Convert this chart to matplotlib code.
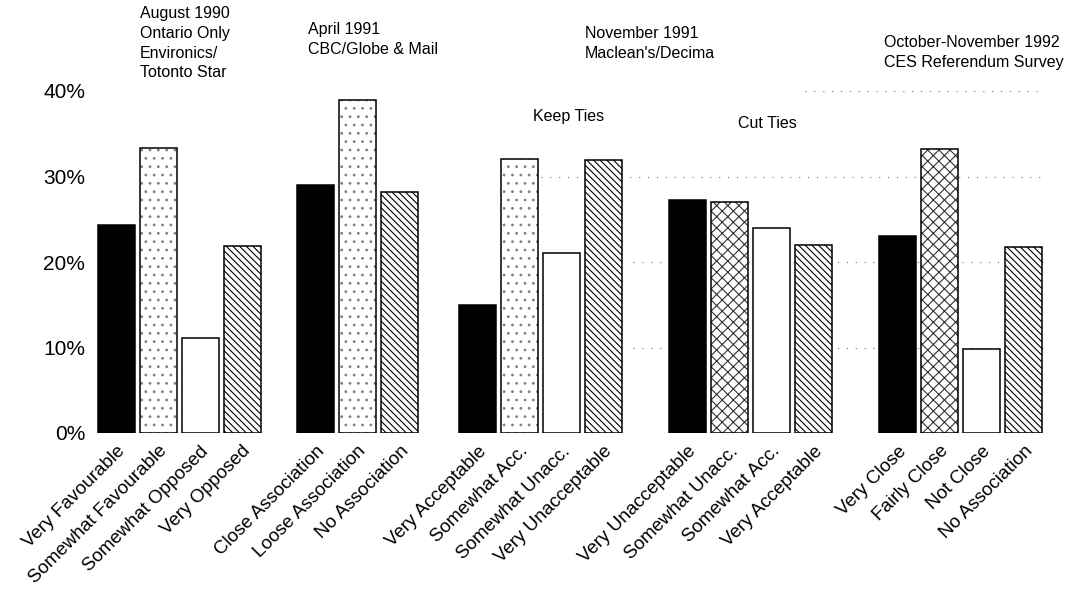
import matplotlib.pyplot as plt
import numpy as np

plt.rcParams['font.family'] = ['Liberation Sans', 'DejaVu Sans']
plt.rcParams['hatch.linewidth'] = 0.8

# survey groups, categories and percentages
group_notes = [
    "August 1990\nOntario Only\nEnvironics/\nTotonto Star",
    "April 1991\nCBC/Globe & Mail",
    "November 1991\nMaclean's/Decima",
    "",
    "October-November 1992\nCES Referendum Survey",
]
sub_notes = ["", "", "Keep Ties", "Cut Ties", ""]

cats_1990 = ["Very Favourable", "Somewhat Favourable", "Somewhat Opposed", "Very Opposed"]
vals_1990 = [24.3, 33.3, 11.1, 21.9]

cats_1991a = ["Close Association", "Loose Association", "No Association"]
vals_1991a = [29.0, 39.0, 28.2]

cats_keep = ["Very Acceptable", "Somewhat Acc.", "Somewhat Unacc.", "Very Unacceptable"]
vals_keep = [15.0, 32.1, 21.0, 31.9]

cats_cut = ["Very Unacceptable", "Somewhat Unacc.", "Somewhat Acc.", "Very Acceptable"]
vals_cut = [27.2, 27.0, 24.0, 22.0]

cats_1992 = ["Very Close", "Fairly Close", "Not Close", "No Association"]
vals_1992 = [23.0, 33.2, 9.8, 21.8]

groups = [
    (cats_1990, vals_1990, ['black', 'dots', 'white', 'diag']),
    (cats_1991a, vals_1991a, ['black', 'dots', 'diag']),
    (cats_keep, vals_keep, ['black', 'dots', 'white', 'diag']),
    (cats_cut, vals_cut, ['black', 'cross', 'white', 'diag']),
    (cats_1992, vals_1992, ['black', 'cross', 'white', 'diag']),
]

styles = {
    'black': dict(color='black', hatch=None, hc='black'),
    'white': dict(color='white', hatch=None, hc='black'),
    'dots': dict(color='white', hatch='..', hc='0.5'),
    'cross': dict(color='white', hatch='xxx', hc='0.2'),
    'diag': dict(color='white', hatch='\\\\\\\\\\', hc='black'),
}

fig = plt.figure(figsize=(10.8, 5.91), dpi=100)
ax = fig.add_axes([95 / 1080, 158 / 591, 950 / 1080, 342 / 591])

gaps = [1.75, 1.85, 2.0, 2.0, 0]
start = 0.0
xticks, xlabels, group_x = [], [], []
for (cats, vals, kinds), gap in zip(groups, gaps):
    x = start + np.arange(len(cats))
    for xi, v, k in zip(x, vals, kinds):
        st = styles[k]
        # fill + pattern first, then a crisp black outline on top
        ax.bar(xi, v, width=0.88, color=st['color'], edgecolor=st['hc'],
               hatch=st['hatch'], linewidth=0, zorder=3)
        ax.bar(xi, v, width=0.88, color='none', edgecolor='black',
               linewidth=1.1, zorder=4)
    xticks.extend(x)
    xlabels.extend(cats)
    group_x.append((x[0], x[-1]))
    start = x[-1] + gap

ax.set_xlim(-0.5, 22.1)
ax.set_ylim(0, 40)

# faint dotted grid, as it shows through on the right side of the scan
ax.axhline(0, color='0.3', linestyle=(0, (1, 4)), linewidth=0.8, zorder=1)
grid_from = {40: group_x[3][1] - 0.2, 30: group_x[2][0] + 1.3, 20: group_x[2][1] + 0.7, 10: group_x[2][1] + 0.7}
for yv, x0 in grid_from.items():
    ax.plot([x0, 22.1], [yv, yv], color='0.45', linestyle=(0, (1, 7)), linewidth=0.8, zorder=1)

ax.set_yticks([0, 10, 20, 30, 40])
ax.set_yticklabels(['0%', '10%', '20%', '30%', '40%'], fontsize=15)
ax.set_xticks(xticks)
ax.set_xticklabels(xlabels, rotation=45, ha='right', va='top', rotation_mode='anchor', fontsize=13.5)
ax.tick_params(length=0, pad=7)
for s in ax.spines.values():
    s.set_visible(False)

# survey notes above the bars
note_pos = [(140, 6), (308, 22), (585, 26), None, (884, 35)]
for note, pos in zip(group_notes, note_pos):
    if note and pos:
        fig.text(pos[0] / 1080, 1 - pos[1] / 591, note, fontsize=11.5, va='top', ha='left', linespacing=1.4)
fig.text(533 / 1080, 1 - 117 / 591, sub_notes[2], fontsize=11.5, va='center', ha='left')
fig.text(738 / 1080, 1 - 124 / 591, sub_notes[3], fontsize=11.5, va='center', ha='left')

fig.savefig('out.png', dpi=100, facecolor='white')
